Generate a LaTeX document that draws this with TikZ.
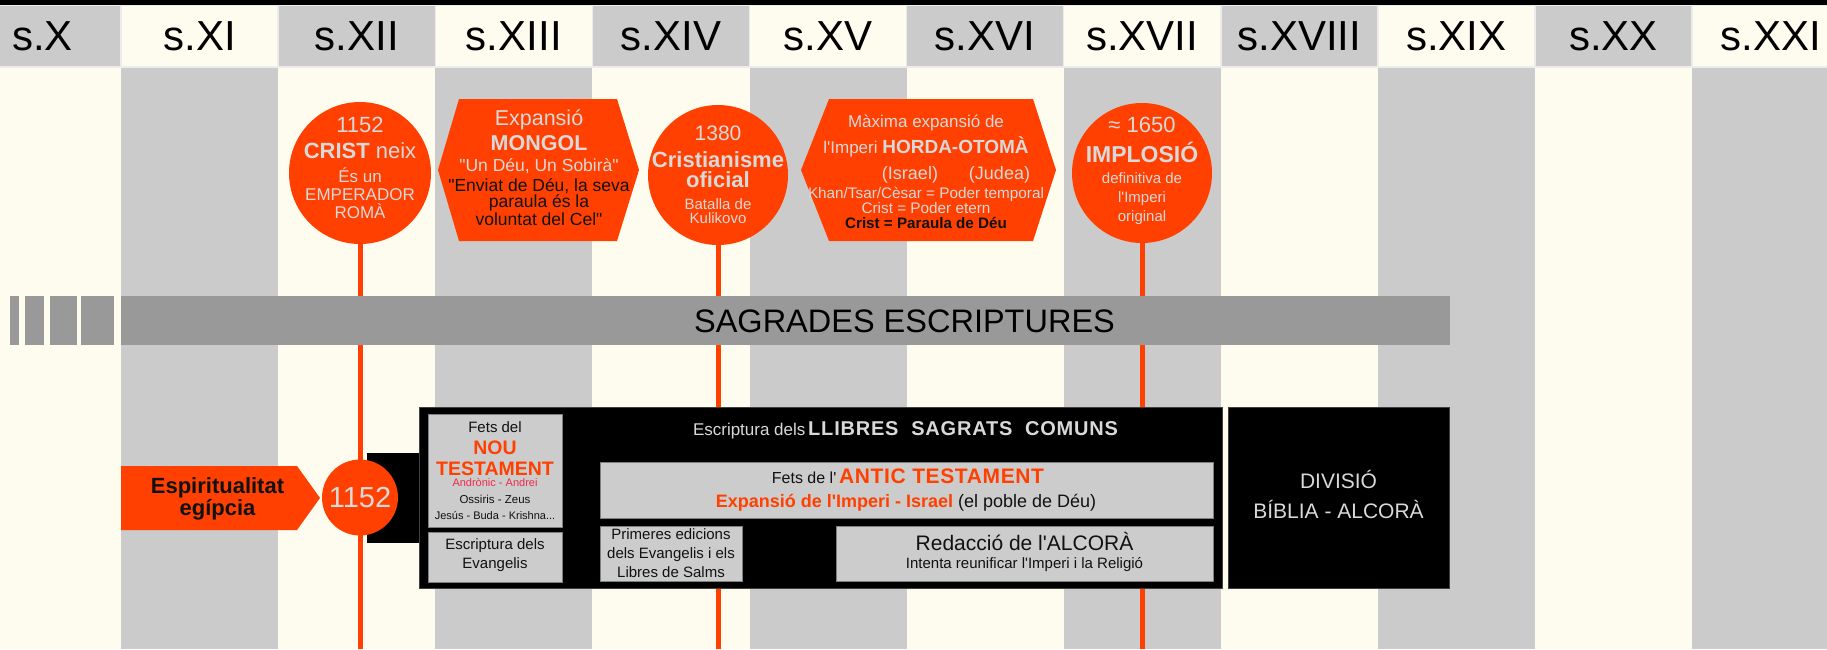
\documentclass[tikz,border=0pt]{standalone}
\usepackage{fontspec}
\setmainfont{Liberation Sans}[Ligatures=TeXOff]
\usetikzlibrary{shapes.geometric}
\definecolor{cream}{HTML}{FEFBEF}
\definecolor{colg}{HTML}{CBCBCB}
\definecolor{hdrline}{HTML}{ECECEC}
\definecolor{org}{HTML}{FF4000}
\definecolor{lt}{HTML}{D9D9D9}
\definecolor{barg}{HTML}{999999}
\definecolor{boxg}{HTML}{CCCCCC}
\definecolor{boxline}{HTML}{7F7F7F}
\definecolor{crim}{HTML}{F0284A}
\definecolor{dk}{HTML}{111111}
\newcommand\fsz[2]{\fontsize{#1}{#2}\selectfont}
\tikzset{
  txt/.style={inner sep=0pt, anchor=base, align=center},
  hdr/.style={draw=hdrline, line width=1.5pt, minimum width=157.1pt, minimum height=62pt, inner sep=0pt, font=\fsz{42}{48}, text=black},
  ev/.style={circle, fill=org, inner sep=0pt, minimum size=#1},
  stem/.style={draw=org, line width=5pt},
  gbox/.style={fill=boxg, draw=boxline, line width=1pt},
  blk/.style={fill=black, draw=black!75, line width=1pt},
  hexa/.style={fill=org},
}
\begin{document}
\begin{tikzpicture}[x=1pt,y=-1pt]
\useasboundingbox (0,0) rectangle (1827,649);
\begin{scope}
\clip (0,0) rectangle (1827,649);
% body columns
\foreach \k in {0,...,11} {
  \pgfmathsetmacro\xa{-36+157.1*\k}
  \ifodd\k \def\bc{colg}\else\def\bc{cream}\fi
  \fill[\bc] (\xa,67) rectangle ++(157.1,582);
}
% header cells
\foreach \k/\r in {0/X,1/XI,2/XII,3/XIII,4/XIV,5/XV,6/XVI,7/XVII,8/XVIII,9/XIX,10/XX,11/XXI} {
  \pgfmathsetmacro\cx{42.5+157.1*\k}
  \ifodd\k \def\hc{cream}\else\def\hc{colg}\fi
  \node[hdr, fill=\hc] (h\k) at (\cx,36) {s.\r};
}
\fill[black] (0,0) rectangle (1827,5);

% top events
\node[ev=142pt] (c1) at (360,173) {};
\node[ev=140pt] (c2) at (718,175) {};
\node[ev=140pt] (c3) at (1142,173) {};
\fill[hexa] (438,170) -- (459,99) -- (617,99) -- (639,170) -- (617,241) -- (459,241) -- cycle;
\fill[hexa] (801,170) -- (829,99) -- (1033,99) -- (1056,170) -- (1033,241) -- (829,241) -- cycle;

% stems
\coordinate (e1) at (360,649);
\coordinate (e2) at (718,649);
\coordinate (e3) at (1142,649);
\draw[stem] (c1.south) -- (e1);
\draw[stem] (c2.south) -- (e2);
\draw[stem] (c3.south) -- (e3);

% sagrades escriptures bar
\fill[barg] (9.6,296) rectangle (19.1,345);
\fill[barg] (24.9,296) rectangle (44,345);
\fill[barg] (49.8,296) rectangle (76.6,345);
\fill[barg] (81.3,296) rectangle (113.9,345);
\node[fill=barg, inner sep=0pt, minimum width=1329.2pt, minimum height=49pt] (bar) at (785.2,320.5) {};
\node[txt, font=\fsz{32.5}{34}, text=black] (bartxt) at (904.5,332.7) {SAGRADES ESCRIPTURES};

% bottom structure
\fill[org] (121,466) -- (297,466) -- (320,498) -- (297,530) -- (121,530) -- cycle;
\fill[black] (367,453) rectangle (420,543);
\filldraw[blk] (419,407) rectangle (1222,588);
\filldraw[blk] (1228,407) rectangle (1449,588);
\node[ev=76pt] (c4) at (360,497.5) {};
\filldraw[gbox] (428,414) rectangle (562,527);
\filldraw[gbox] (428,532) rectangle (562,582);
\filldraw[gbox] (600,462) rectangle (1213,518);
\filldraw[gbox] (600,526) rectangle (742,581);
\filldraw[gbox] (836,526) rectangle (1213,581);
\end{scope}

% texts circle 1 (multi-line nodes are placed at their last baseline)
\node[txt, text=lt, font=\fsz{22}{24}] (t1a) at (360,132) {1152};
\node[txt, text=lt, font=\fsz{22}{24}] (t1b) at (360,158) {\textbf{CRIST} neix};
\node[txt, text=lt, font=\fsz{17}{17.8}] (t1c) at (360,218.3) {És un\\EMPERADOR\\ROMÀ};
% hexagon 1
\node[txt, text=lt, font=\fsz{21.5}{23}] (t2a) at (539,125) {Expansió};
\node[txt, text=lt, font=\fsz{21.5}{23}\bfseries] (t2b) at (539,150) {MONGOL};
\node[txt, text=lt, font=\fsz{17.5}{18}] (t2c) at (539,171) {"Un Déu, Un Sobirà"};
\node[txt, text=dk, font=\fsz{17.5}{16}] (t2d) at (539,225) {"Enviat de Déu, la seva\\paraula és la\\voluntat del Cel"};
% circle 2
\node[txt, text=lt, font=\fsz{21}{23}] (t3a) at (718,140) {1380};
\node[txt, text=lt, font=\fsz{22}{20}\bfseries] (t3b) at (718,187) {Cristianisme\\oficial};
\node[txt, text=lt, font=\fsz{15}{14}] (t3c) at (718,223) {Batalla de\\Kulikovo};
% hexagon 2
\node[txt, text=lt, font=\fsz{17}{18}] (t4a) at (926,127) {Màxima expansió de};
\node[txt, text=lt, font=\fsz{17}{18}] (t4b) at (926,153) {l'Imperi {\fsz{19}{20}\bfseries HORDA-OTOMÀ}};
\node[txt, text=lt, font=\fsz{18}{19}] (t4c) at (956,179) {(Israel)\hspace{31pt}(Judea)};
\node[txt, text=lt, font=\fsz{15.3}{15}] (t4d) at (926,213) {Khan/Tsar/Cèsar = Poder temporal\\Crist = Poder etern};
\node[txt, text=dk, font=\fsz{15.2}{16}\bfseries] (t4e) at (926,228) {Crist = Paraula de Déu};
% circle 3
\node[txt, text=lt, font=\fsz{22}{24}] (t5a) at (1142,132) {≈ 1650};
\node[txt, text=lt, font=\fsz{23}{24}\bfseries] (t5b) at (1142,162) {IMPLOSIÓ};
\node[txt, text=lt, font=\fsz{15}{19}] (t5c) at (1142,221) {definitiva de\\l'Imperi\\original};

% bottom texts
\node[txt, text=dk, font=\fsz{22}{20}\bfseries] (t6) at (217.5,515) {Espiritualitat\\egípcia};
\node[txt, text=lt, font=\fsz{29}{30}] (t7) at (360,507) {1152};
\node[txt, text=dk, font=\fsz{15}{16}] (t8a) at (495,432) {Fets del};
\node[txt, text=org, font=\fsz{19.5}{21}\bfseries] (t8b) at (495,475) {NOU\\TESTAMENT};
\node[txt, text=crim, font=\fsz{11}{12}] (t8c) at (495,486) {Andrònic - Andrei};
\node[txt, text=dk, font=\fsz{11.5}{12}] (t8d) at (495,503) {Ossiris - Zeus};
\node[txt, text=dk, font=\fsz{11}{12}] (t8e) at (495,519) {Jesús - Buda - Krishna...};
\node[txt, text=dk, font=\fsz{15}{19}] (t9) at (495,568) {Escriptura dels\\Evangelis};
\node[txt, text=lt] (t10) at (905.5,435) {{\fsz{17}{18}Escriptura dels} {\fsz{20}{22}\bfseries\addfontfeature{LetterSpace=4}LLIBRES\ \ SAGRATS\ \ COMUNS}};
\node[txt, text=dk] (t11a) at (908,483) {{\fsz{16}{18}Fets de l'} {\fsz{21}{22}\bfseries\color{org}\addfontfeature{LetterSpace=3}ANTIC TESTAMENT}};
\node[txt, text=dk, font=\fsz{18}{19}] (t11b) at (906,507) {\textcolor{org}{\textbf{Expansió de l'Imperi - Israel}} (el poble de Déu)};
\node[txt, text=dk, font=\fsz{15}{19}] (t12) at (671,577) {Primeres edicions\\dels Evangelis i els\\Libres de Salms};
\node[txt, text=dk, font=\fsz{21}{22}] (t13a) at (1024.5,550) {Redacció de l'ALCORÀ};
\node[txt, text=dk, font=\fsz{15}{16}] (t13b) at (1024.5,568) {Intenta reunificar l'Imperi i la Religió};
\node[txt, text=lt, font=\fsz{21}{30}] (t14) at (1338.5,518) {DIVISIÓ\\BÍBLIA - ALCORÀ};
\end{tikzpicture}
\end{document}
